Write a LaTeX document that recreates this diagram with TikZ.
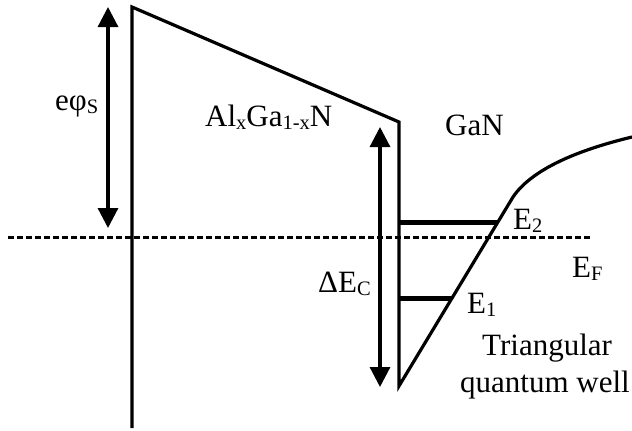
\documentclass[tikz,border=0pt]{standalone}
\usepackage{fontspec}
\setmainfont{Liberation Serif}
\usetikzlibrary{arrows.meta}

\newcommand{\lsub}[1]{\raisebox{-3pt}{\fontsize{20.5}{20.5}\selectfont #1}}

\tikzset{
  band/.style={line width=3.2pt, line join=miter},
  level/.style={line width=5pt},
  fermi/.style={line width=3pt, dash pattern=on 6pt off 3pt},
  gap/.style={line width=3.2pt, {Triangle[length=20pt,width=20pt]}-{Triangle[length=20pt,width=20pt]}},
  lab/.style={anchor=base west, inner sep=0pt, font=\fontsize{31}{37}\selectfont}
}

\begin{document}
\begin{tikzpicture}[x=1pt, y=-1pt]
  \useasboundingbox (0,0) rectangle (632,431);
  % band edge: surface, barrier, interface, well
  \coordinate (sb) at (132,428);
  \coordinate (st) at (132,7);
  \coordinate (it) at (399,122);
  \coordinate (ib) at (399,386);
  \coordinate (wk) at (513,197);
  \coordinate (wr) at (632,137);
  \draw[band] (sb) -- (st) -- (it) -- (ib) -- (wk)
    .. controls (530,172) and (570,152) .. (wr);
  % subband levels
  \foreach \name/\y/\x in {two/222/498, one/298/452}
  {
    \coordinate (\name l) at (399,\y);
    \coordinate (\name r) at (\x,\y);
    \draw[level] (\name l) -- (\name r);
  }
  % Fermi level
  \coordinate (fl) at (8,237);
  \coordinate (fr) at (590,237);
  \draw[fermi] (fl) -- (fr);
  % arrows
  \coordinate (pt) at (108,7);
  \coordinate (pb) at (108,228);
  \draw[gap] (pt) -- (pb);
  \coordinate (ct) at (380,127);
  \coordinate (cb) at (380,387);
  \draw[gap] (ct) -- (cb);
  % labels
  \node[lab] (phis) at (55,110) {eφ\lsub{S}};
  \node[lab] (algan) at (205,126) {Al\lsub{x}Ga\lsub{1-x}N};
  \node[lab] (gan) at (445,135) {GaN};
  \node[lab] (dec) at (318,292) {ΔE\lsub{C}};
  \node[lab] (etwo) at (513,229) {E\lsub{2}};
  \node[lab] (ef) at (572,277) {E\lsub{F}};
  \node[lab] (eone) at (467,313) {E\lsub{1}};
  \node[lab] (tri) at (482,355) {Triangular};
  \node[lab] (qw) at (460,392) {quantum well};
\end{tikzpicture}
\end{document}
